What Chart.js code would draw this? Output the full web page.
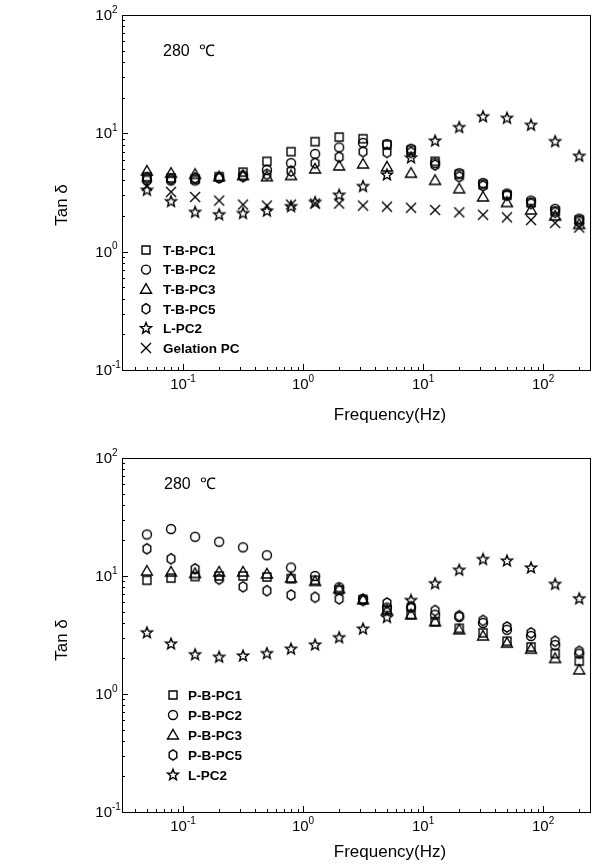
<!DOCTYPE html>
<html>
<head>
<meta charset="utf-8">
<script src="https://cdn.jsdelivr.net/npm/chart.js@4.4.1/dist/chart.umd.min.js"></script>
<style>
  body { margin: 0; background: #fff; width: 596px; height: 865px; overflow: hidden; position: relative; }
  canvas { position: absolute; left: 0; }
</style>
</head>
<body>
<canvas id="topChart" width="596" height="430" style="top:0"></canvas>
<canvas id="bottomChart" width="596" height="435" style="top:430px"></canvas>
<script>
// frequency sweep (Hz), 5 points per decade
const freq = [0.05, 0.0794, 0.126, 0.2, 0.316, 0.5, 0.794, 1.26, 2, 3.16, 5, 7.94, 12.6, 20, 31.6, 50, 79.4, 126, 200];

// top panel
const tbpc1 = [4.3, 4.2, 4.1, 4.3, 4.7, 5.8, 7.0, 8.5, 9.3, 9.0, 8.0, 7.2, 5.8, 4.5, 3.7, 3.0, 2.6, 2.2, 1.85];
const tbpc2 = [4.0, 4.0, 4.0, 4.2, 4.4, 4.9, 5.6, 6.7, 7.6, 8.3, 8.1, 7.4, 5.6, 4.6, 3.8, 3.1, 2.7, 2.3, 1.9];
const tbpc3 = [4.8, 4.6, 4.5, 4.3, 4.4, 4.3, 4.4, 5.0, 5.3, 5.5, 5.2, 4.6, 4.0, 3.4, 2.9, 2.6, 2.25, 2.0, 1.7];
const tbpc5 = [4.2, 4.1, 4.2, 4.2, 4.3, 4.5, 4.8, 5.6, 6.3, 7.0, 6.9, 6.9, 5.4, 4.3, 3.6, 3.0, 2.55, 2.15, 1.8];
const lpc2 = [3.3, 2.65, 2.15, 2.05, 2.1, 2.2, 2.4, 2.6, 3.0, 3.55, 4.45, 6.2, 8.6, 11.2, 13.8, 13.4, 11.7, 8.5, 6.4];
const gelation = [3.6, 3.2, 2.9, 2.7, 2.5, 2.45, 2.5, 2.55, 2.55, 2.45, 2.4, 2.35, 2.25, 2.15, 2.05, 1.95, 1.85, 1.75, 1.6];

// bottom panel
const pbpc1 = [9.2, 9.6, 9.9, 10.0, 10.0, 9.8, 9.5, 9.2, 7.6, 6.3, 5.2, 4.7, 4.1, 3.6, 3.3, 2.8, 2.5, 2.2, 1.9];
const pbpc2 = [22.5, 25, 21.5, 19.5, 17.5, 15, 11.8, 10, 8.0, 6.4, 5.4, 5.4, 4.7, 4.5, 4.0, 3.5, 3.1, 2.6, 2.2];
const pbpc3 = [11.0, 10.8, 10.5, 10.8, 10.8, 10.4, 9.6, 9.0, 7.8, 6.3, 5.1, 4.7, 4.1, 3.5, 3.1, 2.7, 2.4, 2.0, 1.6];
const pbpc5 = [17, 14, 11.5, 9.4, 8.1, 7.5, 6.9, 6.6, 6.4, 6.2, 5.9, 5.5, 5.1, 4.6, 4.2, 3.7, 3.3, 2.8, 2.3];

// axes
const xRange = [0.031, 246];
const yRange = [0.1, 100];
const decadesX = [-1, 0, 1, 2];
const decadesY = [-1, 0, 1, 2];
const xTitle = 'Frequency(Hz)';
const yTitle = 'Tan \u03b4';
const tempLabel = '280  \u2103';

// marker shapes, hollow black like the print
function drawMarker(ctx, shape, x, y) {
    ctx.save();
    ctx.strokeStyle = '#000';
    ctx.lineWidth = 1.4;
    ctx.beginPath();
    if (shape === 'square') {
        ctx.rect(x - 4, y - 4, 8, 8);
    } else if (shape === 'circle') {
        ctx.arc(x, y, 4.5, 0, Math.PI * 2);
    } else if (shape === 'triangle') {
        ctx.moveTo(x, y - 5.5);
        ctx.lineTo(x + 5.5, y + 4);
        ctx.lineTo(x - 5.5, y + 4);
        ctx.closePath();
    } else if (shape === 'hexagon') {
        for (let i = 0; i < 6; i++) {
            const a = -Math.PI / 2 + i * Math.PI / 3;
            const px = x + 4.4 * Math.cos(a), py = y + 5.2 * Math.sin(a);
            if (i === 0) ctx.moveTo(px, py); else ctx.lineTo(px, py);
        }
        ctx.closePath();
    } else if (shape === 'star') {
        for (let i = 0; i < 10; i++) {
            const a = -Math.PI / 2 + i * Math.PI / 5;
            const r = i % 2 === 0 ? 5.8 : 2.5;
            const px = x + r * Math.cos(a), py = y + r * Math.sin(a);
            if (i === 0) ctx.moveTo(px, py); else ctx.lineTo(px, py);
        }
        ctx.closePath();
    } else if (shape === 'cross') {
        ctx.moveTo(x - 5, y - 5); ctx.lineTo(x + 5, y + 5);
        ctx.moveTo(x + 5, y - 5); ctx.lineTo(x - 5, y + 5);
    }
    ctx.stroke();
    ctx.restore();
}

const markerCache = {};
function markerImage(shape) {
    if (!markerCache[shape]) {
        const c = document.createElement('canvas');
        c.width = 16; c.height = 16;
        drawMarker(c.getContext('2d'), shape, 8, 8);
        markerCache[shape] = c;
    }
    return markerCache[shape];
}

function series(label, shape, values) {
    return {
        label: label,
        shape: shape,
        data: freq.map((f, i) => ({ x: f, y: values[i] })),
        pointStyle: markerImage(shape),
        pointRadius: 5,
        showLine: false
    };
}

// 10 with a raised exponent
function powLabel(ctx, e, cx, cy, align) {
    ctx.save();
    ctx.fillStyle = '#000';
    ctx.textBaseline = 'middle';
    ctx.font = '15px Arial, "Liberation Sans", sans-serif';
    const base = '10';
    const bw = ctx.measureText(base).width;
    ctx.font = '10px Arial, "Liberation Sans", sans-serif';
    const ew = ctx.measureText(String(e)).width;
    let left = align === 'right' ? cx - bw : cx - (bw + ew) / 2;
    ctx.textAlign = 'left';
    ctx.font = '15px Arial, "Liberation Sans", sans-serif';
    ctx.fillText(base, left, cy);
    ctx.font = '10px Arial, "Liberation Sans", sans-serif';
    ctx.fillText(String(e), left + bw, cy - 6);
    ctx.restore();
}

// frame, inward ticks, labels, legend and annotation
const originFrame = {
    id: 'originFrame',
    afterDraw(chart, args, o) {
        const { ctx, chartArea: a, scales: { x, y } } = chart;
        ctx.save();
        ctx.strokeStyle = '#000';
        ctx.lineWidth = 1;
        ctx.strokeRect(a.left + 0.5, a.top + 0.5, a.right - a.left, a.bottom - a.top);
        ctx.beginPath();
        for (let e = -2; e <= 3; e++) {
            for (let k = 1; k <= 9; k++) {
                const v = k * Math.pow(10, e);
                const len = k === 1 ? 6 : 3;
                if (v >= x.min && v <= x.max) {
                    const px = Math.round(x.getPixelForValue(v)) + 0.5;
                    ctx.moveTo(px, a.bottom);
                    ctx.lineTo(px, a.bottom - len);
                }
                if (v >= y.min && v <= y.max) {
                    const py = Math.round(y.getPixelForValue(v)) + 0.5;
                    ctx.moveTo(a.left, py);
                    ctx.lineTo(a.left + len, py);
                }
            }
        }
        ctx.stroke();

        decadesX.forEach(e => powLabel(ctx, e, x.getPixelForValue(Math.pow(10, e)), a.bottom + 15, 'center'));
        decadesY.forEach(e => powLabel(ctx, e, a.left - 10, y.getPixelForValue(Math.pow(10, e)) + 1, 'right'));

        ctx.fillStyle = '#000';
        ctx.font = '17px Arial, "Liberation Sans", sans-serif';
        ctx.textAlign = 'center';
        ctx.textBaseline = 'middle';
        ctx.fillText(xTitle, o.xTitleX, o.xTitleY);
        ctx.save();
        ctx.translate(o.yTitleX, o.yTitleY);
        ctx.rotate(-Math.PI / 2);
        ctx.fillText(yTitle, 0, 0);
        ctx.restore();

        ctx.font = '16px Arial, "Liberation Sans", sans-serif';
        ctx.textAlign = 'left';
        ctx.fillText(tempLabel, o.noteX, o.noteY);

        ctx.font = 'bold 13.5px Arial, "Liberation Sans", sans-serif';
        chart.data.datasets.forEach((ds, i) => {
            const ry = o.legendY + i * o.legendStep;
            drawMarker(ctx, ds.shape, o.legendX, ry);
            ctx.fillText(ds.label, o.legendTextX, ry + 1);
        });
        ctx.restore();
    }
};

function makeChart(id, datasets, box, frameOpts) {
    return new Chart(document.getElementById(id), {
        type: 'scatter',
        data: { datasets: datasets },
        options: {
            responsive: false,
            animation: false,
            devicePixelRatio: 1,
            layout: { padding: { top: box.top, right: 6, left: 0, bottom: 0 } },
            plugins: { legend: { display: false }, tooltip: { enabled: false }, originFrame: frameOpts },
            scales: {
                x: {
                    type: 'logarithmic', min: xRange[0], max: xRange[1],
                    ticks: { display: false }, grid: { display: false, drawTicks: false }, border: { display: false },
                    afterFit: s => { s.height = box.xHeight; }
                },
                y: {
                    type: 'logarithmic', min: yRange[0], max: yRange[1],
                    ticks: { display: false }, grid: { display: false, drawTicks: false }, border: { display: false },
                    afterFit: s => { s.width = 122; }
                }
            }
        },
        plugins: [originFrame]
    });
}

makeChart('topChart', [
    series('T-B-PC1', 'square', tbpc1),
    series('T-B-PC2', 'circle', tbpc2),
    series('T-B-PC3', 'triangle', tbpc3),
    series('T-B-PC5', 'hexagon', tbpc5),
    series('L-PC2', 'star', lpc2),
    series('Gelation PC', 'cross', gelation)
], { top: 15, xHeight: 60 }, {
    xTitleX: 390, xTitleY: 415, yTitleX: 62, yTitleY: 205,
    noteX: 163, noteY: 52, legendX: 146, legendTextX: 163, legendY: 250, legendStep: 19.6
});

makeChart('bottomChart', [
    series('P-B-PC1', 'square', pbpc1),
    series('P-B-PC2', 'circle', pbpc2),
    series('P-B-PC3', 'triangle', pbpc3),
    series('P-B-PC5', 'hexagon', pbpc5),
    series('L-PC2', 'star', lpc2)
], { top: 28, xHeight: 53 }, {
    xTitleX: 390, xTitleY: 422, yTitleX: 62, yTitleY: 210,
    noteX: 164, noteY: 55, legendX: 173, legendTextX: 188, legendY: 265, legendStep: 20
});
</script>
</body>
</html>
